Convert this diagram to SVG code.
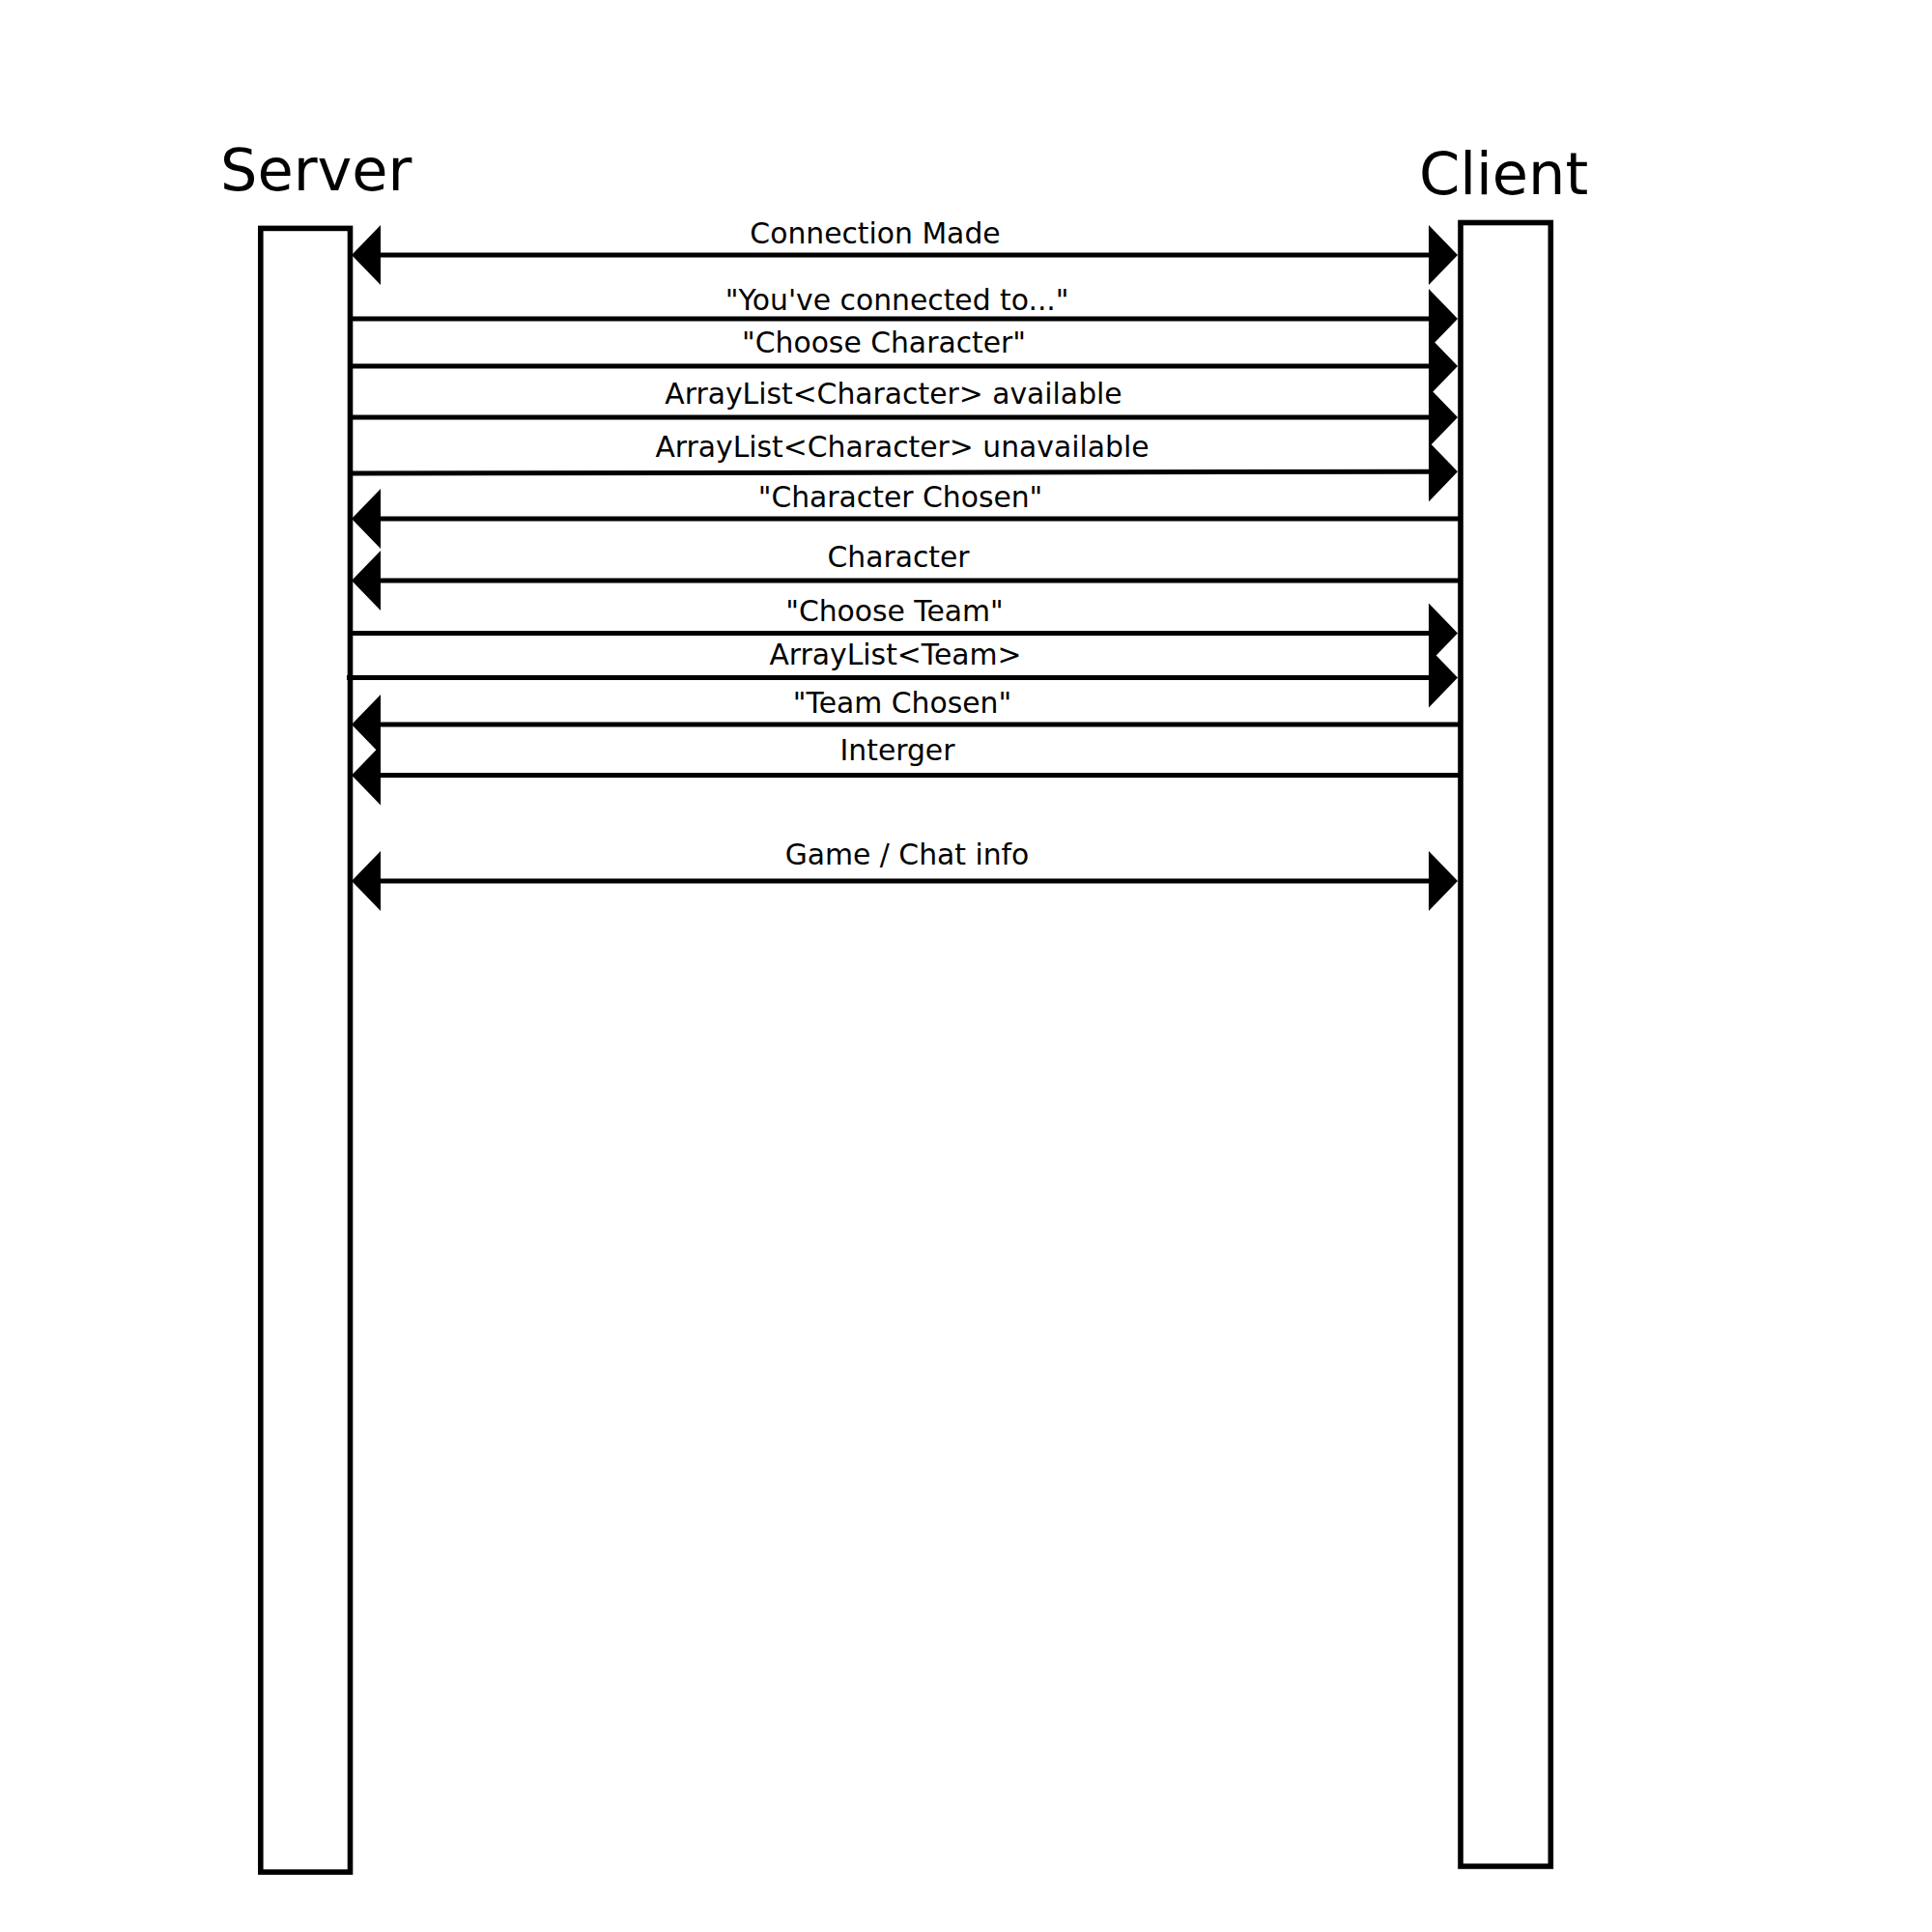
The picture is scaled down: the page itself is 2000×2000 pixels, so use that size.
<svg xmlns="http://www.w3.org/2000/svg" width="2000" height="2000" viewBox="0 0 2000 2000">
  <style>
    .box { fill: #ffffff; stroke: #000000; stroke-width: 5.6; }
    .title { font-family: "DejaVu Sans", "Liberation Sans", sans-serif; font-size: 60.5px; fill: #000000; }
    .lbl { font-family: "DejaVu Sans", "Liberation Sans", sans-serif; font-size: 29.8px; fill: #000000; text-anchor: middle; }
    .msg { fill: none; stroke: #000000; stroke-width: 5; }
    .right { marker-end: url(#head); }
    .left { marker-end: url(#head); }
    .both { marker-start: url(#head); marker-end: url(#head); }
  </style>
  <defs>
    <marker id="head" viewBox="0 0 30 62" refX="0" refY="31" markerWidth="30" markerHeight="62" markerUnits="userSpaceOnUse" orient="auto-start-reverse">
      <path d="M0,0 L30,31 L0,62 z" fill="#000000"/>
    </marker>
  </defs>
  <rect width="2000" height="2000" fill="#ffffff"/>

  <g id="server">
    <rect class="box" x="269.8" y="236.4" width="92.7" height="1701.6"/>
    <text class="title" x="228" y="197">Server</text>
  </g>

  <g id="client">
    <rect class="box" x="1512" y="230.5" width="93.3" height="1701.5"/>
    <text class="title" x="1469" y="201">Client</text>
  </g>

  <g id="connectors">
    <line class="msg both" x1="394" y1="264" x2="1479" y2="264"/>
    <line class="msg right" x1="363" y1="330" x2="1479" y2="330"/>
    <line class="msg right" x1="363" y1="379" x2="1479" y2="379"/>
    <line class="msg right" x1="363" y1="432" x2="1479" y2="432"/>
    <line class="msg right" x1="363" y1="490" x2="1479" y2="488.3"/>
    <line class="msg left" x1="1512" y1="537" x2="394" y2="537"/>
    <line class="msg left" x1="1512" y1="601" x2="394" y2="601"/>
    <line class="msg right" x1="363" y1="655.5" x2="1479" y2="655.5"/>
    <line class="msg right" x1="359" y1="701.5" x2="1479" y2="701.5"/>
    <line class="msg left" x1="1512" y1="750" x2="394" y2="750"/>
    <line class="msg left" x1="1512" y1="802.5" x2="394" y2="802.5"/>
    <line class="msg both" x1="394" y1="912" x2="1479" y2="912"/>
  </g>

  <g id="labels">
    <text class="lbl" x="906" y="252">Connection Made</text>
    <text class="lbl" x="928.7" y="321">"You've connected to..."</text>
    <text class="lbl" x="915" y="365">"Choose Character"</text>
    <text class="lbl" x="925" y="417.5">ArrayList&lt;Character&gt; available</text>
    <text class="lbl" x="934" y="472.5">ArrayList&lt;Character&gt; unavailable</text>
    <text class="lbl" x="932" y="525">"Character Chosen"</text>
    <text class="lbl" x="930" y="587">Character</text>
    <text class="lbl" x="926" y="643">"Choose Team"</text>
    <text class="lbl" x="927" y="688">ArrayList&lt;Team&gt;</text>
    <text class="lbl" x="934" y="738">"Team Chosen"</text>
    <text class="lbl" x="929" y="787">Interger</text>
    <text class="lbl" x="939" y="895">Game / Chat info</text>
  </g>
</svg>
